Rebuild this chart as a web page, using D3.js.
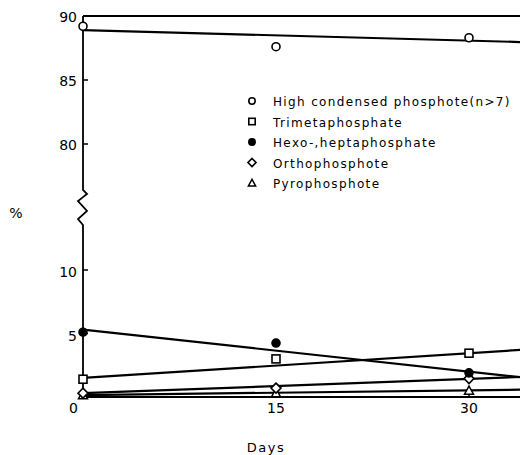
<!DOCTYPE html>
<html>
<head>
<meta charset="utf-8">
<script src="https://cdn.jsdelivr.net/npm/d3@7"></script>
<style>
  body { margin: 0; background: #fff; }
  svg { display: block; font-family: "DejaVu Sans", sans-serif; }
</style>
</head>
<body>
<div id="chart"></div>
<script>
// days of sampling
const days = [0, 15, 30];
// percent values
const highCondensed = [89.2, 87.6, 88.3];
const trimeta = [1.4, 3.0, 3.45];
const hexaHepta = [5.1, 4.25, 1.9];
const ortho = [0.3, 0.7, 1.45];
const pyro = [0.15, 0.3, 0.5];
// fitted straight lines, value at fitDays
const fitDays = [0, 40];
const highFit = [88.9, 87.8];
const trimetaFit = [1.5, 4.1];
const hexaFit = [5.3, 0.9];
const orthoFit = [0.3, 1.8];
const pyroFit = [0.15, 0.65];

const xTicks = [15, 30];
const upperTicks = [80, 85, 90];
const lowerTicks = [5, 10];
const legendNames = [
    "High condensed phosphote(n>7)",
    "Trimetaphosphate",
    "Hexo-,heptaphosphate",
    "Orthophosphote",
    "Pyrophosphote"
];

function init() {
    const width = 520, height = 455;
    const svg = d3.select("#chart").append("svg")
        .attr("width", width)
        .attr("height", height);

    const x = d3.scaleLinear().domain([0, 15]).range([83, 276]);
    const yHigh = d3.scaleLinear().domain([80, 90]).range([144, 16]);
    const yLow = d3.scaleLinear().domain([0, 10]).range([397, 270]);

    const series = [
        { name: legendNames[0], vals: highCondensed, fit: highFit, y: yHigh, sym: "circle" },
        { name: legendNames[1], vals: trimeta, fit: trimetaFit, y: yLow, sym: "square" },
        { name: legendNames[2], vals: hexaHepta, fit: hexaFit, y: yLow, sym: "dot" },
        { name: legendNames[3], vals: ortho, fit: orthoFit, y: yLow, sym: "diamond" },
        { name: legendNames[4], vals: pyro, fit: pyroFit, y: yLow, sym: "triangle" }
    ];

    const ink = "#000";

    // frame: top line and y axis with break
    svg.append("line")
        .attr("x1", x(0)).attr("x2", width + 10)
        .attr("y1", yHigh(90)).attr("y2", yHigh(90))
        .attr("stroke", ink).attr("stroke-width", 2);

    const x0 = x(0);
    svg.append("path")
        .attr("d", `M${x0},${yHigh(90)}V190L${x0 + 4},194L${x0 - 5},201L${x0 + 4},211L${x0 - 5},219L${x0},225V${yLow(0)}`)
        .attr("fill", "none").attr("stroke", ink).attr("stroke-width", 1.8);

    // x axis
    svg.append("line")
        .attr("x1", x0).attr("x2", width + 10)
        .attr("y1", yLow(0)).attr("y2", yLow(0))
        .attr("stroke", ink).attr("stroke-width", 2);

    // y ticks (inward)
    const tickFont = "14px";
    upperTicks.forEach(v => {
        svg.append("line").attr("x1", x0).attr("x2", x0 + 5)
            .attr("y1", yHigh(v)).attr("y2", yHigh(v)).attr("stroke", ink).attr("stroke-width", 1.5);
        svg.append("text").attr("x", x0 - 6).attr("y", yHigh(v) + 1)
            .attr("text-anchor", "end").attr("dominant-baseline", "central")
            .style("font-size", tickFont).attr("fill", ink).text(v);
    });
    lowerTicks.forEach(v => {
        svg.append("line").attr("x1", x0).attr("x2", x0 + 5)
            .attr("y1", yLow(v)).attr("y2", yLow(v)).attr("stroke", ink).attr("stroke-width", 1.5);
        svg.append("text").attr("x", x0 - 6).attr("y", yLow(v) + 2)
            .attr("text-anchor", "end").attr("dominant-baseline", "central")
            .style("font-size", tickFont).attr("fill", ink).text(v);
    });
    svg.append("text").attr("x", x0 - 5).attr("y", yLow(0) + 11)
        .attr("text-anchor", "end").attr("dominant-baseline", "central")
        .style("font-size", tickFont).attr("fill", ink).text(0);

    // x ticks
    xTicks.forEach(d => {
        svg.append("line").attr("x1", x(d)).attr("x2", x(d))
            .attr("y1", yLow(0)).attr("y2", yLow(0) - 4).attr("stroke", ink).attr("stroke-width", 1.5);
        svg.append("text").attr("x", x(d)).attr("y", yLow(0) + 11)
            .attr("text-anchor", "middle").attr("dominant-baseline", "central")
            .style("font-size", tickFont).attr("fill", ink).text(d);
    });

    // axis titles
    svg.append("text").attr("x", 16).attr("y", 213)
        .attr("text-anchor", "middle").attr("dominant-baseline", "central")
        .style("font-size", "14px").attr("fill", ink).text("%");
    svg.append("text").attr("x", 266).attr("y", 447)
        .attr("text-anchor", "middle").attr("dominant-baseline", "central")
        .style("font-size", "13px").style("letter-spacing", "1.5px").attr("fill", ink).text("Days");

    // fitted lines
    const line = d3.line();
    series.forEach(s => {
        svg.append("path")
            .attr("d", line(fitDays.map((d, i) => [x(d), s.y(s.fit[i])])))
            .attr("fill", "none").attr("stroke", ink).attr("stroke-width", 2.2);
    });

    function marker(g, sym, cx, cy, k = 1) {
        if (sym === "circle" || sym === "dot") {
            g.append("circle").attr("cx", cx).attr("cy", cy).attr("r", 4 * k)
                .attr("fill", sym === "dot" ? ink : "#fff").attr("stroke", ink).attr("stroke-width", 1.6);
        } else if (sym === "square") {
            g.append("rect").attr("x", cx - 4 * k).attr("y", cy - 4 * k).attr("width", 8 * k).attr("height", 8 * k)
                .attr("fill", "#fff").attr("stroke", ink).attr("stroke-width", 1.6);
        } else if (sym === "diamond") {
            const r = 5 * k;
            g.append("path").attr("d", `M${cx},${cy - r}L${cx + r},${cy}L${cx},${cy + r}L${cx - r},${cy}Z`)
                .attr("fill", "#fff").attr("stroke", ink).attr("stroke-width", 1.6);
        } else {
            const r = 4.5 * k;
            g.append("path").attr("d", `M${cx},${cy - r}L${cx + r},${cy + r * 0.8}L${cx - r},${cy + r * 0.8}Z`)
                .attr("fill", "#fff").attr("stroke", ink).attr("stroke-width", 1.5);
        }
    }

    // data points, draw lower ones first so upper markers sit on top
    const pts = svg.append("g");
    series.slice().reverse().forEach(s => {
        s.vals.forEach((v, i) => marker(pts, s.sym, x(days[i]), s.y(v)));
    });

    // legend
    const legend = svg.append("g").attr("transform", "translate(252,101)");
    series.forEach((s, i) => {
        const row = legend.append("g").attr("transform", `translate(0,${i * 20.5})`);
        marker(row, s.sym, 0, 0, 0.8);
        row.append("text").attr("x", 21).attr("y", 1)
            .attr("dominant-baseline", "central")
            .style("font-size", "12px").style("letter-spacing", "1.35px")
            .attr("fill", ink).text(s.name);
    });
}

init();
</script>
</body>
</html>
